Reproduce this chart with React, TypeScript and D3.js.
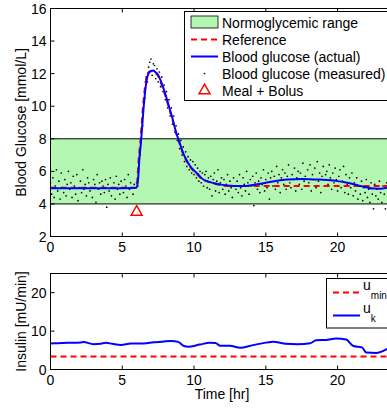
import React from 'react';
import * as d3 from 'd3';

// blood glucose, actual (smooth model output)
const bgT = [0, 1, 2, 3, 4, 5, 5.8, 6.0, 6.1, 6.2, 6.3, 6.4, 6.5, 6.6, 6.7, 6.8, 6.9, 7.0, 7.15, 7.3, 7.5, 7.75, 8.0, 8.25, 8.5, 8.75, 9.0, 9.25, 9.5, 9.75, 10.0, 10.25, 10.5, 10.75, 11.0, 11.5, 12.0, 12.5, 13.0, 13.5, 14.0, 14.5, 15.0, 15.5, 16.0, 16.5, 17.0, 17.5, 18.0, 18.5, 19.0, 19.5, 20.0, 20.5, 21.0, 21.5, 22.0, 22.5, 23.0, 23.5, 24.0];
const bgV = [4.97, 4.97, 4.96, 4.96, 4.97, 4.97, 4.98, 5.0, 5.5, 6.85, 7.75, 8.9, 10.05, 10.95, 11.6, 11.95, 12.1, 12.17, 12.2, 12.1, 11.92, 11.4, 10.75, 10.0, 9.25, 8.4, 7.75, 7.1, 6.65, 6.3, 6.05, 5.85, 5.6, 5.45, 5.37, 5.25, 5.17, 5.12, 5.1, 5.1, 5.15, 5.22, 5.3, 5.38, 5.45, 5.5, 5.52, 5.53, 5.52, 5.5, 5.48, 5.45, 5.4, 5.33, 5.24, 5.12, 5.02, 4.94, 4.93, 5.0, 5.08];

// reference trajectory
const refT = [0, 5.95, 6.05, 6.15, 6.25, 6.35, 6.45, 6.55, 6.65, 6.75, 6.85, 7.0, 7.15, 7.3, 7.5, 7.75, 8.0, 8.25, 8.5, 8.75, 9.0, 9.25, 9.5, 9.75, 10.0, 10.5, 11.0, 11.5, 12.0, 12.5, 24];
const refV = [5.0, 5.0, 5.5, 6.85, 7.75, 8.9, 10.05, 10.95, 11.6, 11.95, 12.1, 12.15, 12.15, 12.05, 11.85, 11.3, 10.65, 9.9, 9.15, 8.35, 7.7, 7.05, 6.6, 6.25, 6.0, 5.58, 5.35, 5.22, 5.13, 5.1, 5.1];

// CGM measurements, every 5 min from t = 0
const cgm = [
  5.3, 4.6, 5.6, 4.4, 5.1, 6.1, 4.8, 5.4, 4.3, 5.9, 5.0, 4.7,
  5.5, 4.5, 5.2, 6.0, 4.9, 5.3, 4.4, 5.7, 5.1, 4.6, 5.8, 4.2,
  5.0, 5.4, 4.7, 6.1, 4.9, 5.2, 4.5, 5.6, 5.3, 4.8, 5.0, 4.4,
  5.5, 5.2, 4.1, 5.8, 4.9, 5.3, 4.6, 5.4, 5.1, 4.7, 5.5, 3.8,
  5.2, 4.8, 5.6, 4.5, 5.0, 5.3, 4.3, 5.7, 4.9, 5.2, 4.6, 5.4,
  5.0, 4.7, 5.5, 5.1, 4.4, 5.8, 4.9, 5.3, 5.0, 4.6, 5.2, 5.0,
  5.3, 5.1, 6.7, 7.0, 8.4, 8.8, 10.4, 10.5, 11.8, 11.5, 12.4, 12.7,
  12.9, 11.9, 12.6, 12.5, 11.7, 12.3, 11.5, 12.1, 11.2, 11.8, 10.9, 11.3,
  10.4, 10.9, 9.9, 10.4, 9.4, 9.9, 8.9, 9.4, 8.4, 8.8, 7.9, 8.3,
  7.4, 7.9, 7.0, 7.5, 6.6, 7.2, 6.3, 6.9, 6.1, 6.7, 5.9, 6.6,
  5.8, 6.4, 5.6, 6.2, 5.4, 6.0, 5.3, 5.9, 5.1, 5.8, 6.0, 5.0,
  5.6, 4.9, 5.7, 4.5, 5.5, 5.9, 4.8, 5.4, 6.1, 4.7, 5.3, 5.6,
  4.9, 5.5, 4.6, 5.2, 5.8, 4.8, 5.4, 5.0, 4.4, 5.6, 5.1, 4.9,
  5.4, 4.7, 5.8, 5.0, 4.5, 5.6, 5.2, 4.8, 6.0, 5.3, 4.6, 5.5,
  5.1, 5.7, 3.9, 5.3, 5.9, 4.9, 5.4, 4.7, 5.6, 5.2, 6.1, 4.8,
  5.5, 5.0, 5.9, 4.3, 5.6, 6.0, 5.1, 5.7, 4.9, 6.3, 5.3, 5.8,
  4.7, 5.6, 6.1, 5.2, 5.9, 4.9, 5.7, 6.4, 5.3, 5.0, 5.8, 5.5,
  6.2, 4.8, 5.6, 6.0, 5.2, 5.9, 4.9, 6.5, 5.4, 5.7, 5.1, 6.1,
  5.3, 6.4, 4.8, 5.8, 5.5, 6.2, 5.0, 6.6, 5.4, 5.9, 4.7, 5.7,
  6.3, 5.1, 5.8, 6.0, 5.2, 6.4, 5.6, 4.9, 5.9, 5.3, 6.2, 5.5,
  4.8, 5.7, 6.1, 5.0, 5.4, 6.3, 4.7, 5.8, 5.2, 4.6, 5.6, 5.0,
  5.9, 4.5, 5.3, 4.8, 5.6, 4.3, 5.1, 4.6, 5.4, 4.2, 5.0, 4.7,
  5.5, 4.4, 4.9, 4.1, 5.3, 4.6, 3.7, 5.2, 4.5, 4.9, 4.3, 5.4,
  4.7, 4.1, 5.1, 4.6, 3.7, 5.3, 4.9, 4.4, 5.6, 5.0, 4.7, 5.2,
];

const mealT = [6];
const mealV = [3.5];

// insulin
const ukT = [0, 0.5, 1.2, 2.1, 2.3, 3.0, 3.5, 3.85, 4.3, 4.9, 5.6, 6.5, 7.2, 7.8, 8.4, 8.9, 9.3, 9.6, 10.4, 11.1, 11.5, 11.8, 12.5, 13.2, 14.1, 15.0, 15.5, 16.4, 17.2, 18.1, 18.5, 19.2, 19.9, 20.6, 21.1, 21.7, 22.0, 22.7, 23.2, 23.5, 24];
const ukV = [6.8, 6.85, 6.95, 7.05, 7.15, 6.6, 6.7, 6.95, 6.7, 6.4, 6.75, 6.8, 7.1, 7.25, 7.45, 7.2, 6.1, 5.95, 6.5, 6.95, 6.9, 6.2, 6.2, 5.65, 6.35, 7.0, 7.2, 6.7, 6.6, 6.85, 7.6, 7.7, 8.1, 7.8, 6.1, 5.75, 4.4, 4.3, 4.85, 5.4, 5.6];
const uMin = 3.4;

const xTicks = [0, 5, 10, 15, 20];
const bgTicks = [2, 4, 6, 8, 10, 12, 14, 16];
const insTicks = [0, 10, 20];
const normoRange = [4, 8];

const FONT = 'Liberation Sans, Arial, sans-serif';
const W = 387;
const H = 409;

function Frame({ x, y, xt, yt }: any) {
  const [x0, x1] = x.range();
  const [y0, y1] = y.range();
  const tl = 4;
  return (
    <g>
      <rect x={x0} y={y1} width={x1 - x0} height={y0 - y1} fill="none" stroke="#000" strokeWidth={1} />
      {xt.map((t: number) => (
        <g key={'x' + t}>
          <line x1={x(t)} x2={x(t)} y1={y0} y2={y0 - tl} stroke="#000" />
          <line x1={x(t)} x2={x(t)} y1={y1} y2={y1 + tl} stroke="#000" />
          <text x={x(t)} y={y0 + 15} textAnchor="middle" fontSize={14}>{t}</text>
        </g>
      ))}
      {yt.map((t: number) => (
        <g key={'y' + t}>
          <line x1={x0} x2={x0 + tl} y1={y(t)} y2={y(t)} stroke="#000" />
          <line x1={x1} x2={x1 - tl} y1={y(t)} y2={y(t)} stroke="#000" />
          <text x={x0 - 4} y={y(t)} dy="0.36em" textAnchor="end" fontSize={14}>{t}</text>
        </g>
      ))}
    </g>
  );
}

export default function App() {
  const x = d3.scaleLinear().domain([0, 24]).range([50.5, 395]);
  const yG = d3.scaleLinear().domain([2, 16]).range([236.5, 8.5]);
  const yI = d3.scaleLinear().domain([0, 25]).range([369.5, 273.5]);

  const bgLine = d3.line<number>().x((d, i) => x(bgT[i])).y(d => yG(d)).curve(d3.curveMonotoneX);
  const refLine = d3.line<number>().x((d, i) => x(refT[i])).y(d => yG(d)).curve(d3.curveMonotoneX);
  const ukLine = d3.line<number>().x((d, i) => x(ukT[i])).y(d => yI(d)).curve(d3.curveMonotoneX);
  const tri = d3.symbol().type(d3.symbolTriangle).size(52)()!;

  return (
    <svg width={W} height={H} style={{ position: 'absolute', left: 0, top: 0, background: '#fff' }} fontFamily={FONT}>
      <defs>
        <clipPath id="cg"><rect x={x(0)} y={yG(16)} width={x(24) - x(0)} height={yG(2) - yG(16)} /></clipPath>
        <clipPath id="ci"><rect x={x(0)} y={yI(25)} width={x(24) - x(0)} height={yI(0) - yI(25)} /></clipPath>
      </defs>

      {/* glucose panel */}
      <rect x={x(0)} y={yG(normoRange[1])} width={x(24) - x(0)} height={yG(normoRange[0]) - yG(normoRange[1])}
        fill="#b3f7b3" stroke="#000" strokeWidth={1} />
      <g clipPath="url(#cg)">
        {cgm.map((v, i) => (
          <circle key={i} cx={x(i / 12)} cy={yG(v)} r={0.85} fill="#000" />
        ))}
        <path d={refLine(refV) || ''} fill="none" stroke="#ff0000" strokeWidth={2} strokeDasharray="6,4" />
        <path d={bgLine(bgV) || ''} fill="none" stroke="#0000ff" strokeWidth={2} />
        {mealT.map((t, i) => (
          <path key={i} d={tri} transform={`translate(${x(t)},${yG(mealV[i])})`} fill="none" stroke="#ff0000" strokeWidth={1.5} />
        ))}
      </g>
      <Frame x={x} y={yG} xt={xTicks} yt={bgTicks} />
      <text transform={`translate(26,${(yG(2) + yG(16)) / 2}) rotate(-90)`} textAnchor="middle" fontSize={14}>Blood Glucose [mmol/L]</text>

      {/* legend glucose */}
      <g>
        <rect x={184.5} y={11.5} width={215} height={89} fill="#fff" stroke="#000" strokeWidth={1} />
        <rect x={191} y={16} width={27} height={12} fill="#b3f7b3" stroke="#000" strokeWidth={0.8} />
        <text x={222} y={22.5} dy="0.36em" fontSize={14}>Normoglycemic range</text>
        <line x1={191} x2={218} y1={39.5} y2={39.5} stroke="#ff0000" strokeWidth={2} strokeDasharray="6,4" />
        <text x={222} y={39.5} dy="0.36em" fontSize={14}>Reference</text>
        <line x1={191} x2={218} y1={56.5} y2={56.5} stroke="#0000ff" strokeWidth={2} />
        <text x={222} y={56.5} dy="0.36em" fontSize={14}>Blood glucose (actual)</text>
        <circle cx={204.5} cy={73.5} r={0.85} fill="#000" />
        <text x={222} y={73.5} dy="0.36em" fontSize={14}>Blood glucose (measured)</text>
        <path d={tri} transform="translate(204.5,90.5)" fill="none" stroke="#ff0000" strokeWidth={1.5} />
        <text x={222} y={90.5} dy="0.36em" fontSize={14}>Meal + Bolus</text>
      </g>

      {/* insulin panel */}
      <g clipPath="url(#ci)">
        <line x1={x(0)} x2={x(24)} y1={yI(uMin)} y2={yI(uMin)} stroke="#ff0000" strokeWidth={2} strokeDasharray="6,4" />
        <path d={ukLine(ukV) || ''} fill="none" stroke="#0000ff" strokeWidth={2} />
      </g>
      <Frame x={x} y={yI} xt={xTicks} yt={insTicks} />
      <text transform={`translate(26,${(yI(0) + yI(25)) / 2}) rotate(-90)`} textAnchor="middle" fontSize={14}>Insulin [mU/min]</text>
      <text x={222} y={399} textAnchor="middle" fontSize={14}>Time [hr]</text>

      {/* legend insulin */}
      <g>
        <rect x={326.5} y={278.5} width={80} height={49.5} fill="#fff" stroke="#000" strokeWidth={1} />
        <line x1={333} x2={360} y1={292.5} y2={292.5} stroke="#ff0000" strokeWidth={2} strokeDasharray="6,4" />
        <text x={363} y={290} fontSize={14}>u<tspan dy={9} fontSize={10}>min</tspan></text>
        <line x1={333} x2={360} y1={315.5} y2={315.5} stroke="#0000ff" strokeWidth={2} />
        <text x={363} y={313} fontSize={14}>u<tspan dy={9} fontSize={10}>k</tspan></text>
      </g>
    </svg>
  );
}
